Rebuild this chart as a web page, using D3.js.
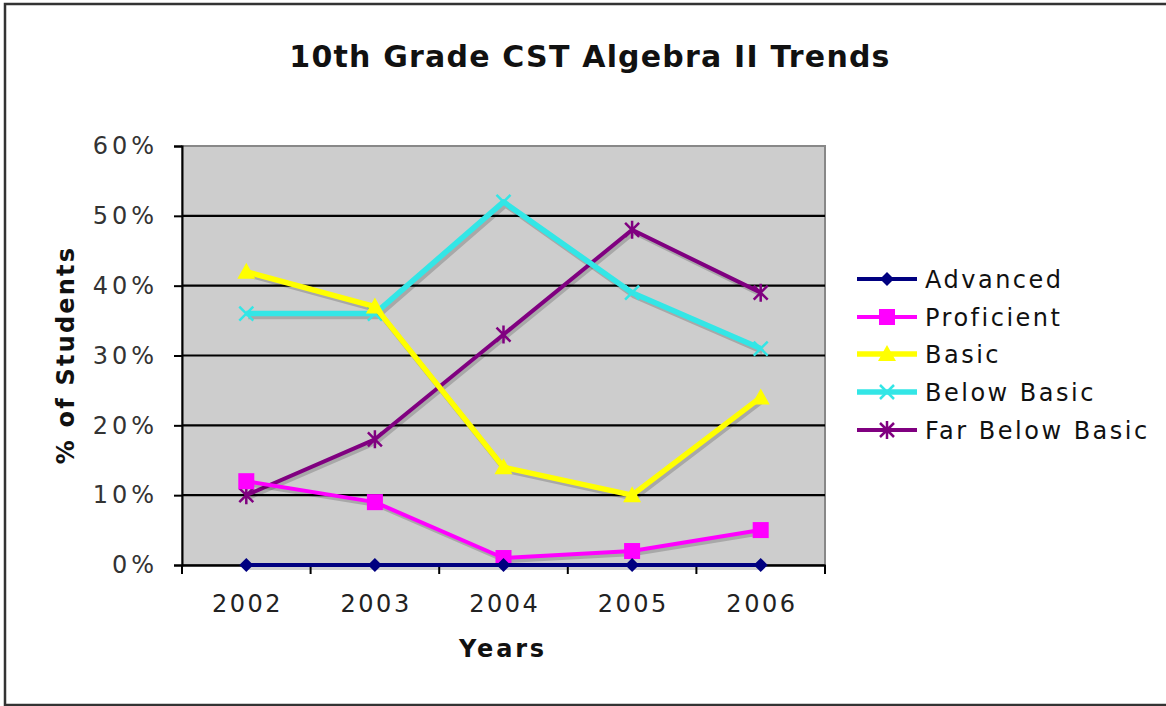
<!DOCTYPE html>
<html><head><meta charset="utf-8">
<script src="https://cdn.jsdelivr.net/npm/d3@7"></script>
<style>
body{margin:0;background:#fff;}
svg{display:block;font-family:"DejaVu Sans",Verdana,sans-serif;}
</style></head>
<body><svg id="c" width="1166" height="706"></svg>
<script>
const years = ["2002","2003","2004","2005","2006"];
const seriesNames = ["Advanced","Proficient","Basic","Below Basic","Far Below Basic"];
const advanced = [0,0,0,0,0];
const proficient = [12,9,1,2,5];
const basic = [42,37,14,10,24];
const belowBasic = [36,36,52,39,31];
const farBelowBasic = [10,18,33,48,39];
const yTicks = [0,10,20,30,40,50,60];
const colors = ["#000080","#ff00ff","#ffff00","#33e6e6","#800080"];
const widths = [4,4,5.5,5.5,4];
const markers = ["diamond","square","triangle","x","star"];
const seriesValues = [advanced,proficient,basic,belowBasic,farBelowBasic];

const svg = d3.select("#c");
svg.append("rect").attr("x",5).attr("y",4).attr("width",1170).attr("height",701)
  .attr("fill","#fff").attr("stroke","#333").attr("stroke-width",2.5);

const L=182, R=825, T=146, B=565;
const x = d3.scaleBand().domain(years).range([L,R]);
const y = d3.scaleLinear().domain([0,60]).range([B,T]);

svg.append("rect").attr("x",L).attr("y",T).attr("width",R-L).attr("height",B-T)
  .attr("fill","#cdcdcd").attr("stroke","#888").attr("stroke-width",2);

svg.append("g").selectAll("line").data(yTicks.filter(d=>d>0&&d<60)).join("line")
  .attr("x1",L).attr("x2",R).attr("y1",d=>y(d)).attr("y2",d=>y(d))
  .attr("stroke","#000").attr("stroke-width",2.2);

const ya = svg.append("g").attr("transform",`translate(${L},0)`)
  .call(d3.axisLeft(y).tickValues(yTicks).tickFormat(d=>d+"%").tickSize(8).tickPadding(16));
ya.select(".domain").attr("stroke","#000").attr("stroke-width",2);
ya.selectAll(".tick line").attr("stroke","#000").attr("stroke-width",2);
ya.selectAll("text").attr("font-size",24).attr("fill","#333").attr("letter-spacing",4)
  .attr("font-family","DejaVu Sans, sans-serif");

const xa = svg.append("g").attr("transform",`translate(0,${B})`)
  .call(d3.axisBottom(x).tickSize(0).tickPadding(30));
xa.select(".domain").attr("stroke","#000").attr("stroke-width",2.5);
xa.selectAll("text").attr("font-size",24).attr("fill","#222").attr("letter-spacing",2.5)
  .attr("dx",1.2).attr("font-family","DejaVu Sans, sans-serif");
const bounds = years.map(d=>x(d)).concat([R]);
svg.append("g").selectAll("line").data(bounds).join("line")
  .attr("x1",d=>d).attr("x2",d=>d).attr("y1",B).attr("y2",B+9)
  .attr("stroke","#000").attr("stroke-width",2);

const cx = d=>x(d)+x.bandwidth()/2;

function drawMarker(g, type, px, py, color){
  if(type==="diamond"){
    g.append("path").attr("d",`M${px},${py-7}L${px+7},${py}L${px},${py+7}L${px-7},${py}Z`).attr("fill",color);
  } else if(type==="square"){
    g.append("rect").attr("x",px-8).attr("y",py-8).attr("width",16).attr("height",16).attr("fill",color);
  } else if(type==="triangle"){
    g.append("path").attr("d",`M${px},${py-9}L${px+9},${py+7}L${px-9},${py+7}Z`).attr("fill",color);
  } else if(type==="x"){
    g.append("path").attr("d",`M${px-7},${py-7}L${px+7},${py+7}M${px+7},${py-7}L${px-7},${py+7}`).attr("stroke",color).attr("stroke-width",2.5);
  } else {
    g.append("path").attr("d",`M${px-7},${py-7}L${px+7},${py+7}M${px+7},${py-7}L${px-7},${py+7}M${px},${py-9}L${px},${py+9}`).attr("stroke",color).attr("stroke-width",2.5);
  }
}

const line = d3.line().x((d,i)=>cx(years[i])).y(d=>y(d));
const order = [4,3,2,1,0];
order.forEach(si=>{
  const vals = seriesValues[si];
  const g = svg.append("g");
  g.append("path").attr("d",line(vals)).attr("fill","none").attr("stroke","rgba(0,0,0,0.18)")
    .attr("stroke-width",widths[si]).attr("transform","translate(2,3)").attr("stroke-linejoin","round");
  g.append("path").attr("d",line(vals)).attr("fill","none").attr("stroke",colors[si])
    .attr("stroke-width",widths[si]).attr("stroke-linejoin","round");
  vals.forEach((v,i)=>drawMarker(g, markers[si], cx(years[i]), y(v), colors[si]));
});

const legY = [279,317,354,392,430];
seriesNames.forEach((name,i)=>{
  const g = svg.append("g");
  g.append("line").attr("x1",857).attr("x2",917).attr("y1",legY[i]).attr("y2",legY[i])
    .attr("stroke",colors[i]).attr("stroke-width",widths[i]);
  drawMarker(g, markers[i], 887, legY[i], colors[i]);
  g.append("text").attr("x",925).attr("y",legY[i]+9).text(name)
    .attr("font-size",24).attr("fill","#111").attr("letter-spacing",2.5);
});

svg.append("text").attr("x",590).attr("y",67).attr("text-anchor","middle")
  .attr("font-size",30).attr("font-weight","bold").attr("fill","#111").attr("letter-spacing",1.2)
  .text("10th Grade CST Algebra II Trends");
svg.append("text").attr("x",503).attr("y",657).attr("text-anchor","middle")
  .attr("font-size",24).attr("font-weight","bold").attr("fill","#111").attr("letter-spacing",2.8)
  .text("Years");
svg.append("text").attr("transform","translate(74,355) rotate(-90)").attr("text-anchor","middle")
  .attr("font-size",24).attr("font-weight","bold").attr("fill","#111").attr("letter-spacing",2.2)
  .text("% of Students");
</script></body></html>
